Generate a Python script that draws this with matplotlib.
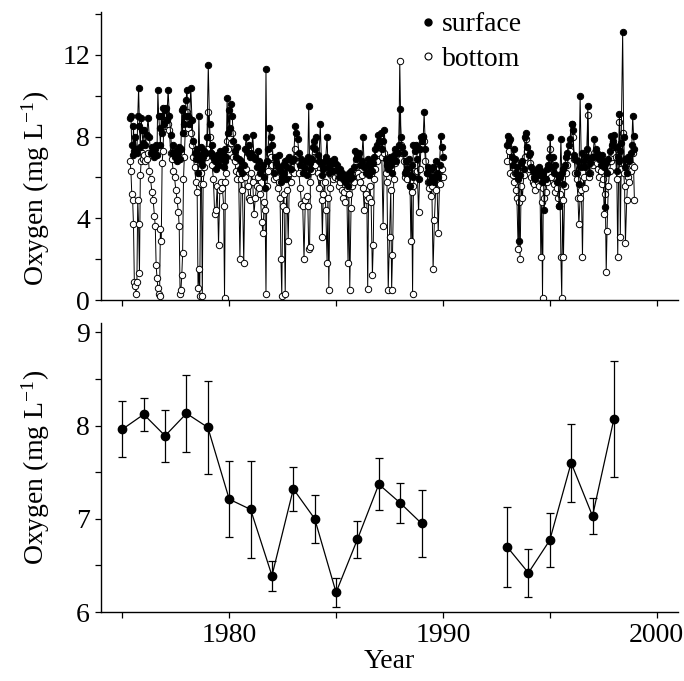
import numpy as np
import matplotlib
matplotlib.use("Agg")
import matplotlib.pyplot as plt
from matplotlib.lines import Line2D

plt.rcParams["font.family"] = ["Liberation Serif", "DejaVu Serif"]
plt.rcParams["mathtext.fontset"] = "stix"

# ---- individual samples (decimal year), oxygen in mg/L ----
sample_time = [
    # 1975
    1975.36, 1975.40, 1975.44, 1975.48, 1975.52, 1975.56, 1975.60, 1975.64,
    1975.68, 1975.72, 1975.76, 1975.80, 1975.84, 1975.88, 1975.92, 1975.96,
    # 1976
    1976.02, 1976.08, 1976.14, 1976.20, 1976.26, 1976.32, 1976.38, 1976.44,
    1976.50, 1976.54, 1976.58, 1976.62, 1976.66, 1976.70, 1976.74, 1976.78,
    1976.82, 1976.86, 1976.90, 1976.94, 1976.98,
    # 1977
    1977.02, 1977.08, 1977.14, 1977.20, 1977.26, 1977.32, 1977.38, 1977.44,
    1977.50, 1977.56, 1977.62, 1977.66, 1977.70, 1977.74, 1977.78, 1977.82,
    1977.86, 1977.90, 1977.94, 1977.98,
    # 1978
    1978.02, 1978.08, 1978.14, 1978.20, 1978.26, 1978.32, 1978.38, 1978.44,
    1978.50, 1978.54, 1978.58, 1978.62, 1978.66, 1978.70, 1978.74, 1978.78,
    1978.84, 1978.90, 1978.96,
    # 1979
    1979.02, 1979.08, 1979.14, 1979.20, 1979.26, 1979.32, 1979.38, 1979.44,
    1979.50, 1979.56, 1979.62, 1979.68, 1979.74, 1979.78, 1979.82, 1979.86,
    1979.90, 1979.94, 1979.98,
    # 1980
    1980.02, 1980.08, 1980.14, 1980.20, 1980.26, 1980.32, 1980.38, 1980.44,
    1980.50, 1980.56, 1980.62, 1980.68, 1980.74, 1980.80, 1980.86, 1980.92,
    1980.98,
    # 1981
    1981.04, 1981.10, 1981.16, 1981.22, 1981.28, 1981.34, 1981.40, 1981.46,
    1981.52, 1981.58, 1981.64, 1981.68, 1981.72, 1981.76, 1981.82, 1981.88,
    1981.94,
    # 1982
    1982.02, 1982.08, 1982.14, 1982.20, 1982.26, 1982.32, 1982.38, 1982.42,
    1982.46, 1982.50, 1982.56, 1982.62, 1982.66, 1982.70, 1982.76, 1982.82,
    1982.88, 1982.94,
    # 1983
    1983.02, 1983.08, 1983.14, 1983.20, 1983.26, 1983.32, 1983.38, 1983.44,
    1983.50, 1983.56, 1983.62, 1983.68, 1983.72, 1983.76, 1983.80, 1983.86,
    1983.92, 1983.98,
    # 1984
    1984.02, 1984.08, 1984.14, 1984.20, 1984.26, 1984.32, 1984.36, 1984.40,
    1984.46, 1984.52, 1984.58, 1984.62, 1984.66, 1984.72, 1984.78, 1984.84,
    1984.90, 1984.96,
    # 1985
    1985.02, 1985.08, 1985.14, 1985.20, 1985.26, 1985.32, 1985.38, 1985.44,
    1985.50, 1985.56, 1985.60, 1985.64, 1985.70, 1985.76, 1985.82, 1985.88,
    1985.94,
    # 1986
    1986.02, 1986.08, 1986.14, 1986.20, 1986.26, 1986.32, 1986.38, 1986.44,
    1986.48, 1986.52, 1986.58, 1986.64, 1986.70, 1986.74, 1986.78, 1986.84,
    1986.90, 1986.96,
    # 1987
    1987.02, 1987.08, 1987.14, 1987.20, 1987.26, 1987.32, 1987.38, 1987.44,
    1987.50, 1987.56, 1987.60, 1987.64, 1987.70, 1987.76, 1987.82, 1987.88,
    1987.94, 1987.98,
    # 1988
    1988.04, 1988.10, 1988.16, 1988.22, 1988.28, 1988.34, 1988.40, 1988.46,
    1988.50, 1988.54, 1988.58, 1988.62, 1988.68, 1988.74, 1988.80, 1988.86,
    1988.92, 1988.98,
    # 1989
    1989.02, 1989.08, 1989.12, 1989.18, 1989.24, 1989.30, 1989.36, 1989.42,
    1989.48, 1989.54, 1989.60, 1989.66, 1989.72, 1989.78, 1989.84, 1989.90,
    1989.96, 1990.02,
    # 1993
    1993.01, 1993.06, 1993.11, 1993.16, 1993.21, 1993.26, 1993.31, 1993.36,
    1993.41, 1993.46, 1993.52, 1993.56, 1993.61, 1993.66, 1993.72, 1993.78,
    1993.84, 1993.88, 1993.94,
    # 1994
    1994.02, 1994.08, 1994.14, 1994.20, 1994.26, 1994.32, 1994.38, 1994.44,
    1994.50, 1994.54, 1994.58, 1994.62, 1994.66, 1994.70, 1994.74, 1994.80,
    1994.86, 1994.92, 1994.98,
    # 1995
    1995.02, 1995.08, 1995.14, 1995.20, 1995.26, 1995.32, 1995.38, 1995.44,
    1995.48, 1995.52, 1995.56, 1995.60, 1995.64, 1995.70, 1995.76, 1995.82,
    1995.88, 1995.94,
    # 1996
    1996.02, 1996.08, 1996.14, 1996.20, 1996.26, 1996.32, 1996.36, 1996.42,
    1996.48, 1996.53, 1996.58, 1996.64, 1996.70, 1996.74, 1996.78, 1996.84,
    1996.90, 1996.96,
    # 1997
    1997.02, 1997.08, 1997.14, 1997.20, 1997.26, 1997.32, 1997.38, 1997.44,
    1997.50, 1997.55, 1997.60, 1997.64, 1997.68, 1997.74, 1997.80, 1997.86,
    1997.92, 1997.98,
    # 1998
    1998.02, 1998.08, 1998.14, 1998.18, 1998.22, 1998.26, 1998.30, 1998.34,
    1998.41, 1998.46, 1998.50, 1998.54, 1998.60, 1998.66, 1998.72, 1998.78,
    1998.84, 1998.88, 1998.92, 1998.96,
]

surface = [
    8.9, 9.0, 7.6, 7.1, 8.5, 7.3, 8.0, 7.4, 7.2, 9.0, 10.4, 8.5, 7.5, 8.9, 8.3, 7.7,
    8.3, 7.6, 8.1, 8.9, 8.0, 7.2, 7.5, 7.3, 7.0, 7.4, 7.6, 7.1, 10.3, 9.0, 8.4, 7.6,
    9.0, 8.2, 9.4, 8.6, 9.3,
    9.4, 8.8, 10.3, 9.0, 8.1, 7.2, 7.6, 7.0, 7.3, 6.8, 7.2, 7.5, 6.9, 7.4, 9.3, 8.2,
    9.4, 8.6, 9.0, 9.8,
    10.3, 9.0, 8.6, 10.4, 8.8, 7.8, 7.2, 6.9, 7.4, 6.2, 9.0, 7.1, 6.8, 7.5, 6.6, 7.0,
    7.3, 7.2, 8.0,
    11.5, 8.6, 7.2, 7.6, 7.0, 6.8, 6.4, 7.1, 6.6, 7.3, 6.9, 7.2, 6.5, 6.8, 7.4, 7.0,
    9.9, 8.2, 9.3,
    8.4, 9.6, 9.0, 7.8, 7.3, 7.0, 7.5, 6.9, 6.4, 6.8, 6.2, 6.6, 7.4, 8.0, 7.2, 7.6,
    7.0,
    7.2, 8.1, 7.0, 6.9, 6.5, 7.3, 6.8, 6.2, 6.4, 6.6, 6.0, 5.5, 11.3, 6.8, 7.4, 8.4,
    8.0,
    7.6, 6.2, 7.0, 6.7, 6.5, 7.1, 6.3, 5.8, 6.0, 6.6, 6.2, 6.8, 5.9, 6.5, 6.9, 7.0,
    6.4, 6.8,
    6.9, 8.5, 8.2, 7.9, 7.2, 6.6, 6.9, 6.2, 6.5, 6.8, 6.1, 7.0, 9.5, 6.7, 6.4, 6.9,
    7.5, 7.8,
    7.4, 8.0, 7.1, 6.8, 8.6, 6.6, 6.1, 6.4, 6.8, 7.0, 8.0, 6.5, 6.2, 6.6, 6.8, 6.3,
    6.9, 6.7,
    6.6, 6.3, 6.0, 6.4, 6.2, 5.9, 6.1, 5.8, 6.0, 5.6, 6.2, 5.9, 6.3, 6.0, 6.5, 7.3,
    6.9,
    7.0, 7.2, 6.6, 6.8, 8.0, 6.5, 6.2, 6.6, 6.9, 6.1, 6.4, 6.8, 6.3, 6.7, 7.0, 7.4,
    7.6, 8.1,
    7.8, 8.2, 7.4, 7.8, 8.3, 6.9, 6.6, 6.4, 7.0, 6.6, 6.2, 6.8, 7.1, 7.4, 6.8, 7.2,
    7.6, 9.35,
    8.0, 7.5, 7.2, 6.2, 6.8, 6.4, 6.9, 5.6, 6.1, 6.6, 6.0, 7.6, 7.3, 7.6, 6.9, 5.9,
    7.4, 8.0,
    7.8, 8.0, 9.2, 7.4, 6.2, 6.5, 5.8, 6.4, 6.0, 6.5, 5.8, 6.8, 6.2, 6.0, 6.6, 8.05,
    7.5, 7.0,
    7.6, 8.05, 7.8, 7.9, 7.0, 6.6, 7.4, 6.9, 6.2, 6.5, 5.9, 2.9, 6.1, 6.7, 6.8, 6.4,
    8.0, 8.2, 7.5,
    7.1, 7.2, 6.5, 6.3, 6.0, 5.9, 6.4, 6.2, 6.5, 6.1, 6.3, 5.8, 6.0, 6.2, 4.4, 5.9,
    6.4, 6.6, 7.0,
    8.0, 6.5, 7.0, 6.2, 6.6, 5.8, 6.1, 4.6, 6.0, 7.9, 6.2, 5.7, 6.4, 6.6, 7.0, 7.2,
    7.6, 7.9,
    8.6, 8.3, 7.1, 6.9, 6.2, 6.8, 5.7, 10.0, 6.5, 7.2, 6.8, 6.5, 7.0, 7.4, 9.5, 6.2,
    6.7, 7.0,
    7.0, 7.9, 7.4, 7.2, 7.0, 6.9, 6.6, 7.1, 6.8, 6.5, 4.55, 6.7, 6.2, 6.9, 7.3, 8.05,
    7.6, 7.8,
    8.1, 7.5, 6.3, 7.0, 6.8, 9.1, 7.3, 7.7, 13.1, 8.0, 6.5, 6.9, 6.2, 7.0, 6.8, 7.2,
    7.6, 9.0, 8.05, 7.4,
]

bottom = [
    6.8, 6.3, 5.2, 4.9, 3.7, 0.9, 0.7, 0.3, 0.9, 4.9, 3.7, 1.3, 6.1, 6.8, 7.2, 6.9,
    7.1, 6.8, 6.9, 7.2, 6.3, 5.9, 5.3, 4.9, 4.1, 3.6, 1.7, 1.1, 0.6, 0.3, 0.2, 3.5,
    2.9, 6.7, 7.3, 8.5, 9.3,
    9.1, 8.5, 8.6, 8.3, 7.2, 6.9, 6.3, 6.0, 5.4, 4.9, 4.3, 3.6, 0.3, 0.5, 1.2, 2.3,
    5.9, 7.0, 8.2, 8.8,
    9.2, 8.4, 8.9, 8.2, 7.6, 7.0, 6.5, 5.8, 5.3, 0.6, 1.5, 0.2, 5.7, 6.2, 0.2, 5.7,
    6.5, 7.0, 7.4,
    9.2, 8.0, 7.2, 6.6, 5.9, 4.2, 4.4, 5.6, 2.7, 5.4, 5.8, 5.5, 4.6, 0.1, 5.8, 6.2,
    7.8, 7.4, 8.1,
    8.0, 7.7, 8.2, 7.0, 6.8, 6.3, 5.9, 6.2, 2.0, 5.9, 5.4, 1.8, 6.0, 6.4, 5.6, 5.0,
    4.9,
    6.2, 5.8, 4.2, 5.0, 5.6, 6.0, 5.5, 5.2, 3.8, 3.3, 4.8, 4.4, 0.3, 5.6, 6.3, 7.2,
    7.0,
    6.6, 5.9, 6.3, 6.0, 5.5, 5.8, 5.0, 2.0, 0.2, 4.6, 5.2, 0.3, 4.4, 5.4, 2.9, 6.2,
    5.8, 6.3,
    6.2, 7.4, 7.0, 6.8, 6.2, 5.5, 4.7, 4.6, 2.0, 4.9, 5.1, 4.6, 2.5, 2.6, 5.8, 6.3,
    6.6, 7.0,
    6.6, 7.0, 6.2, 5.5, 6.0, 4.9, 3.1, 5.2, 5.8, 4.4, 1.8, 5.0, 0.5, 5.5, 6.1, 5.9,
    6.3, 6.0,
    6.2, 5.9, 5.6, 5.8, 5.4, 5.0, 5.3, 4.8, 5.5, 1.8, 5.2, 0.5, 4.5, 5.6, 5.8, 6.2,
    6.5,
    6.2, 6.0, 5.8, 6.1, 5.5, 4.4, 5.2, 4.9, 0.55, 5.0, 5.6, 4.8, 1.2, 2.7, 5.9, 6.4,
    6.8, 7.2,
    7.6, 7.9, 7.0, 3.6, 7.2, 6.2, 5.8, 0.5, 3.1, 5.4, 0.5, 2.2, 5.9, 6.7, 7.1, 7.4,
    7.5, 11.7,
    7.6, 7.2, 6.8, 6.0, 6.3, 5.9, 6.2, 5.6, 2.9, 5.3, 0.3, 5.6, 6.2, 6.6, 6.3, 4.3,
    6.4, 7.6,
    7.5, 8.05, 7.8, 6.8, 6.2, 5.8, 5.5, 5.1, 5.6, 1.5, 3.9, 5.4, 5.8, 3.3, 5.7, 6.0,
    6.4, 6.0,
    6.8, 7.6, 7.3, 6.2, 6.8, 6.1, 5.8, 6.2, 5.4, 5.0, 2.5, 4.8, 2.0, 5.6, 5.0, 6.1,
    7.0, 7.9, 7.3,
    6.4, 6.7, 6.0, 5.8, 5.7, 5.4, 5.9, 5.8, 5.6, 5.9, 2.1, 4.8, 0.1, 5.5, 5.0, 5.3,
    5.8, 6.2, 6.5,
    7.4, 6.0, 6.4, 5.7, 5.3, 5.5, 5.0, 4.6, 5.2, 2.1, 0.1, 4.9, 2.1, 5.6, 6.2, 6.6,
    7.1, 7.3,
    8.6, 8.0, 6.9, 6.2, 5.9, 5.0, 3.7, 5.0, 5.4, 2.1, 6.0, 5.5, 6.6, 7.0, 9.05, 6.0,
    6.2, 6.8,
    6.6, 7.2, 6.8, 6.7, 6.4, 6.0, 6.3, 5.7, 5.9, 4.2, 5.2, 1.35, 3.4, 5.6, 6.3, 6.8,
    7.0, 7.2,
    7.6, 7.0, 5.9, 2.1, 6.2, 8.7, 3.1, 6.4, 8.2, 6.2, 5.6, 2.8, 4.9, 6.0, 5.8, 6.3,
    6.6, 7.2, 6.5, 4.9,
]

# ---- annual means with error bars ----
years = [1975, 1976, 1977, 1978, 1979, 1980, 1981, 1982, 1983, 1984, 1985,
         1986, 1987, 1988, 1989, 1993, 1994, 1995, 1996, 1997, 1998]
annual_mean = [7.96, 8.12, 7.89, 8.13, 7.98, 7.21, 7.10, 6.39, 7.32, 7.00, 6.21,
               6.78, 7.37, 7.17, 6.95, 6.70, 6.42, 6.77, 7.60, 7.03, 8.07]
annual_err = [0.30, 0.18, 0.28, 0.41, 0.50, 0.41, 0.52, 0.16, 0.24, 0.26, 0.16,
              0.20, 0.28, 0.21, 0.36, 0.43, 0.26, 0.29, 0.42, 0.19, 0.62]

x_ticks = [1975, 1980, 1985, 1990, 1995, 2000]
x_ticklabels = ["", "1980", "", "1990", "", "2000"]
ylabel = r"Oxygen (mg L$^{\mathregular{-1}}$)"


def break_gaps(x, *ys, max_step=1.0):
    """Insert NaN between samples separated by more than max_step years."""
    x = np.asarray(x, dtype=float)
    ys = [np.asarray(y, dtype=float) for y in ys]
    cut = np.where(np.diff(x) > max_step)[0] + 1
    xo = np.insert(x, cut, np.nan)
    return (xo, *[np.insert(y, cut, np.nan) for y in ys])


fig = plt.figure(figsize=(6.84, 6.81), dpi=100)
ax1 = fig.add_axes([101 / 684, 381 / 681, 577 / 684, 288 / 681])
ax2 = fig.add_axes([101 / 684, 69 / 681, 577 / 684, 289 / 681])

for ax in (ax1, ax2):
    for side in ("top", "right"):
        ax.spines[side].set_visible(False)
    for side in ("left", "bottom"):
        ax.spines[side].set_linewidth(1.0)
    ax.set_xlim(1974, 2001)
    ax.set_xticks(x_ticks)
    ax.tick_params(which="both", direction="out", length=4, width=0.9,
                   labelsize=20, pad=4)

# ---- top panel: surface and bottom samples ----
t, s, b = break_gaps(sample_time, surface, bottom)
ax1.plot(t, b, "-", color="black", lw=0.7, marker="o", ms=4.6,
         mfc="white", mec="black", mew=0.7)
ax1.plot(t, s, "-", color="black", lw=0.7, marker="o", ms=4.6,
         mfc="black", mec="black", mew=0.7)
ax1.set_xticklabels([])
ax1.set_ylim(0, 14.1)
ax1.set_yticks([0, 4, 8, 12])
ax1.set_yticks([2, 6, 10, 14], minor=True)
ax1.set_ylabel(ylabel, fontsize=20)
ax1.yaxis.set_label_coords(-0.085, 0.39)

handles = [
    Line2D([], [], ls="none", marker="o", ms=5, mfc="black", mec="black"),
    Line2D([], [], ls="none", marker="o", ms=5, mfc="white", mec="black", mew=0.8),
]
ax1.legend(handles, ["surface", "bottom"], loc="upper left",
           bbox_to_anchor=(0.555, 1.0), frameon=False, fontsize=20,
           handlelength=0.5, handletextpad=0.25, labelspacing=0.33,
           borderaxespad=0, borderpad=0)

# ---- bottom panel: annual means ----
ax2.errorbar(years, annual_mean, yerr=annual_err, fmt="none", ecolor="black",
             elinewidth=0.9, capsize=3, capthick=0.9)
yr, mn = break_gaps(years, annual_mean, max_step=1.5)
ax2.plot(yr, mn, "-", color="black", lw=0.9, marker="o", ms=6,
         mfc="black", mec="black")
ax2.set_xticklabels(x_ticklabels)
ax2.set_ylim(6, 9.1)
ax2.set_yticks([6, 7, 8, 9])
ax2.set_yticks([6.5, 7.5, 8.5], minor=True)
ax2.set_ylabel(ylabel, fontsize=20)
ax2.yaxis.set_label_coords(-0.085, 0.5)
ax2.set_xlabel("Year", fontsize=20, labelpad=1)

fig.savefig("out.png", dpi=100)
